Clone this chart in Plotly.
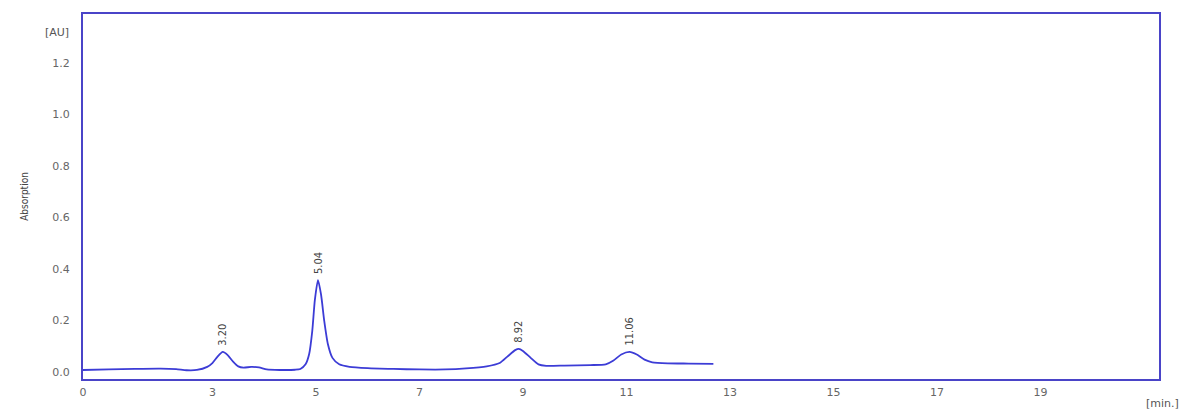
import plotly.graph_objects as go

# Chromatogram trace: retention time [min.] and absorbance [AU]
time_min = [0.5, 1.0, 1.5, 2.0, 2.3, 2.5, 2.7, 2.9, 3.0, 3.1, 3.2, 3.3, 3.4, 3.5,
            3.6, 3.75, 3.9, 4.05, 4.3, 4.6, 4.7, 4.8, 4.87, 4.93, 4.98, 5.04,
            5.10, 5.16, 5.23, 5.32, 5.45, 5.65, 6.0, 6.5, 7.0, 7.5, 7.9, 8.3,
            8.55, 8.7, 8.85, 8.92, 9.0, 9.15, 9.3, 9.45, 9.8, 10.3, 10.6, 10.75,
            10.9, 11.06, 11.2, 11.35, 11.5, 11.8, 12.2, 12.68]
absorbance = [0.008, 0.010, 0.012, 0.013, 0.011, 0.007, 0.008, 0.020, 0.035, 0.060,
              0.078, 0.065, 0.040, 0.022, 0.017, 0.020, 0.018, 0.010, 0.008, 0.009,
              0.012, 0.030, 0.070, 0.160, 0.280, 0.357, 0.300, 0.200, 0.110, 0.055,
              0.030, 0.020, 0.015, 0.012, 0.010, 0.010, 0.014, 0.022, 0.035, 0.060,
              0.085, 0.090, 0.082, 0.055, 0.030, 0.024, 0.025, 0.027, 0.030, 0.045,
              0.068, 0.078, 0.068, 0.048, 0.038, 0.034, 0.033, 0.032]

# Labelled peaks (retention time, apex absorbance)
peak_times = [3.20, 5.04, 8.92, 11.06]
peak_heights = [0.078, 0.357, 0.090, 0.078]

# Axis ticks
x_tick_vals = [0.5, 3, 5, 7, 9, 11, 13, 15, 17, 19]
x_tick_text = ["0", "3", "5", "7", "9", "11", "13", "15", "17", "19"]
y_tick_vals = [0.0, 0.2, 0.4, 0.6, 0.8, 1.0, 1.2]
y_tick_text = ["0.0", "0.2", "0.4", "0.6", "0.8", "1.0", "1.2"]

blue = "#3c3cd6"
frame_blue = "#4a44c8"
tick_font = dict(family="DejaVu Sans, Verdana, sans-serif", size=11, color="#666666")
narrow_font = "Liberation Sans Narrow, DejaVu Sans Condensed, Arial Narrow, sans-serif"

fig = go.Figure()
fig.add_trace(go.Scatter(
    x=time_min, y=absorbance, mode="lines",
    line=dict(color=blue, width=1.8, shape="spline", smoothing=0.6),
    hoverinfo="skip", showlegend=False,
))

for t, h in zip(peak_times, peak_heights):
    fig.add_annotation(
        x=t, y=h, text=f"{t:.2f}", showarrow=False, textangle=-90,
        xanchor="center", yanchor="bottom", yshift=4,
        font=dict(family=narrow_font, size=11, color="#444444"),
    )

fig.add_annotation(xref="paper", yref="paper", x=-0.024, y=0.948, text="[AU]",
                   showarrow=False, xanchor="center", yanchor="middle",
                   font=dict(family="DejaVu Sans, sans-serif", size=11, color="#555555"))
fig.add_annotation(xref="paper", yref="paper", x=1.003, y=-0.068, text="[min.]",
                   showarrow=False, xanchor="center", yanchor="middle",
                   font=dict(family="DejaVu Sans, sans-serif", size=11, color="#555555"))

fig.update_layout(
    width=1186, height=414,
    margin=dict(l=83, r=27, t=14, b=35),
    paper_bgcolor="white", plot_bgcolor="white",
    xaxis=dict(
        range=[0.5, 21.29], tickvals=x_tick_vals, ticktext=x_tick_text,
        showgrid=False, zeroline=False, showline=True, mirror=True,
        linecolor=frame_blue, linewidth=2, ticks="", tickfont=tick_font,
        ticklabelstandoff=2,
    ),
    yaxis=dict(
        range=[-0.027, 1.39], tickvals=y_tick_vals, ticktext=y_tick_text,
        showgrid=False, zeroline=False, showline=True, mirror=True,
        linecolor=frame_blue, linewidth=2, ticks="", tickfont=tick_font,
        ticklabelstandoff=9,
        title=dict(text="Absorption", standoff=22,
                   font=dict(family=narrow_font, size=10, color="#444444")),
    ),
)

fig.write_html("out.html")
